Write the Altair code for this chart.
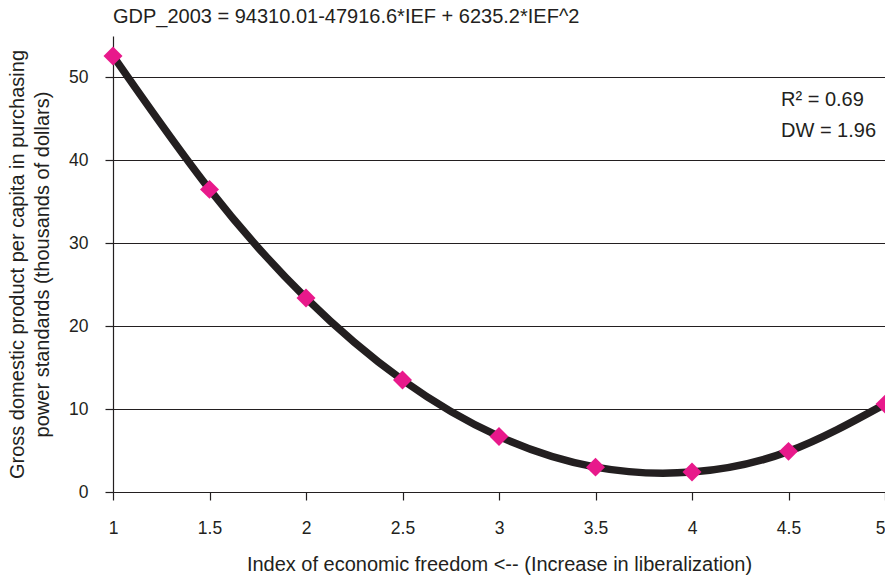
import altair as alt
import pandas as pd

ief = [1.0, 1.5, 2.0, 2.5, 3.0, 3.5, 4.0, 4.5, 5.0]
gdp = [52.6, 36.5, 23.4, 13.5, 6.7, 3.0, 2.4, 4.9, 10.6]
x_ticks = [1, 1.5, 2, 2.5, 3, 3.5, 4, 4.5, 5]
y_ticks = [0, 10, 20, 30, 40, 50]
equation = ["GDP_2003 = 94310.01-47916.6*IEF + 6235.2*IEF^2"]
r2_label = ["R\u00b2 = 0.69"]
dw_label = ["DW = 1.96"]

df = pd.DataFrame({"ief": ief, "gdp": gdp})
FONT = "Liberation Sans"
INK = "#231f20"

x_enc = alt.X("ief:Q", scale=alt.Scale(domain=[1, 5], nice=False, zero=False),
              axis=alt.Axis(values=x_ticks, title="Index of economic freedom <-- (Increase in liberalization)",
                            grid=False, tickSize=8, labelPadding=19, titlePadding=18,
                            labelFlush=False, format="~g",
                            labelAlign=alt.expr("datum.value >= 5 ? 'right' : 'center'")))
y_enc = alt.Y("gdp:Q", scale=alt.Scale(domain=[0, 55], nice=False),
              axis=alt.Axis(values=y_ticks, title=["Gross domestic product per capita in purchasing",
                                                    "power standards (thousands of dollars)"],
                            grid=True, tickSize=8, labelPadding=17, titlePadding=16,
                            titleLineHeight=25))

line = alt.Chart(df).mark_line(color=INK, strokeWidth=7.5, interpolate="natural").encode(x=x_enc, y=y_enc)
pts = alt.Chart(df).mark_point(shape="diamond", filled=True, size=360, color="#e8198b", opacity=1).encode(
    x="ief:Q", y="gdp:Q")

def note(lbl, xpx, ypx):
    return alt.Chart(pd.DataFrame({"t": lbl})).mark_text(
        align="left", baseline="middle", font=FONT, fontSize=20, color=INK
    ).encode(text="t:N", x=alt.value(xpx), y=alt.value(ypx))

chart = alt.layer(line, pts, note(equation, 0, -19), note(r2_label, 668, 64),
                  note(dw_label, 668, 95)).properties(
    width=772, height=456,
    autosize=alt.AutoSizeParams(type="none"),
    padding={"left": 105, "top": 28, "right": 0, "bottom": 84},
).configure_view(stroke=None).configure_axis(
    domainColor=INK, tickColor=INK, gridColor=INK, gridWidth=1, domainWidth=1.2, tickWidth=1.2,
    labelFont=FONT, labelFontSize=17.5, labelColor=INK,
    titleFont=FONT, titleFontSize=20, titleColor=INK, titleFontWeight="normal",
)

chart.save("out.html", embed_options={"renderer": "svg", "actions": False})
